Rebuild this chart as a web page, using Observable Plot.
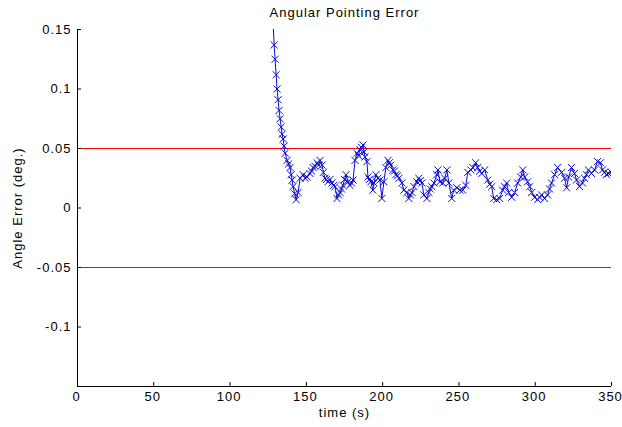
<!DOCTYPE html>
<html><head><meta charset="utf-8">
<script src="https://cdn.jsdelivr.net/npm/d3@7"></script>
<script src="https://cdn.jsdelivr.net/npm/@observablehq/plot@0.6"></script>
<style>body{margin:0;background:#fff} svg{display:block}</style>
</head><body><div id="chart"></div>
<script>
const timeS = [128.0,128.9,129.5,130.2,130.8,131.5,132.1,132.8,133.5,134.1,134.8,135.4,136.1,137.4,138.4,139.3,140.0,140.7,141.3,142.3,143.3,144.6,145.9,147.9,149.2,150.5,152.4,153.4,154.4,155.7,157.0,158.0,159.0,160.3,161.2,162.2,163.2,164.2,165.5,166.8,167.8,168.8,170.1,171.1,172.1,173.0,174.0,175.0,176.0,177.3,178.6,179.6,180.6,181.9,183.2,184.1,185.1,186.1,187.1,187.8,188.4,189.7,190.4,191.3,192.3,193.6,194.3,195.6,196.9,198.2,199.5,200.8,202.1,203.5,204.4,205.4,206.7,207.7,208.7,209.7,210.7,212.6,213.9,215.9,217.2,218.2,219.2,220.5,222.4,223.7,224.7,225.7,227.0,229.0,230.3,231.2,232.2,233.6,235.5,236.2,237.5,239.4,240.7,242.1,243.4,245.3,246.6,248.6,250.6,252.5,254.5,255.8,257.8,259.1,261.0,262.3,263.6,265.0,266.9,268.9,270.2,271.5,272.8,274.8,276.7,278.7,280.0,281.3,282.6,284.6,286.5,288.5,290.5,291.8,293.1,295.0,296.4,297.7,299.6,301.6,302.9,304.2,306.2,308.1,309.4,310.7,312.7,314.7,317.3,319.2,320.6,321.9,323.8,325.8,327.1,329.1,331.0,332.3,333.6,334.9,336.9,338.9,340.8,342.8,344.1,345.4,346.7,348.0,350.0];
const angleErr = [0.160,0.137,0.125,0.112,0.100,0.091,0.082,0.075,0.068,0.062,0.058,0.052,0.046,0.040,0.037,0.034,0.028,0.0235,0.018,0.012,0.007,0.013,0.025,0.028,0.025,0.026,0.029,0.031,0.034,0.035,0.038,0.036,0.040,0.036,0.030,0.025,0.024,0.022,0.024,0.021,0.019,0.018,0.008,0.011,0.013,0.016,0.019,0.024,0.028,0.022,0.019,0.021,0.0235,0.040,0.046,0.044,0.049,0.051,0.053,0.047,0.043,0.039,0.026,0.024,0.022,0.015,0.021,0.028,0.025,0.0235,0.008,0.022,0.034,0.040,0.038,0.036,0.032,0.031,0.028,0.027,0.025,0.021,0.015,0.013,0.008,0.011,0.013,0.018,0.022,0.025,0.023,0.021,0.011,0.008,0.013,0.016,0.018,0.021,0.028,0.032,0.022,0.021,0.025,0.032,0.021,0.008,0.015,0.017,0.015,0.015,0.019,0.030,0.032,0.034,0.038,0.034,0.031,0.029,0.032,0.0235,0.020,0.018,0.008,0.007,0.008,0.015,0.018,0.021,0.013,0.009,0.013,0.021,0.026,0.032,0.026,0.022,0.018,0.013,0.009,0.007,0.009,0.011,0.008,0.011,0.016,0.021,0.028,0.034,0.030,0.025,0.017,0.026,0.034,0.029,0.0235,0.018,0.021,0.025,0.028,0.032,0.029,0.032,0.039,0.038,0.032,0.030,0.028,0.029,0.030];
const limits = [0.05, -0.05];
const xTicks = [0, 50, 100, 150, 200, 250, 300, 350];
const yTicks = [-0.1, -0.05, 0, 0.05, 0.1, 0.15];
const xDomain = [0, 350];
const yDomain = [-0.15, 0.15];
const titleText = "Angular Pointing Error";
const xLabel = "time (s)";
const yLabel = "Angle Error (deg.)";

const points = timeS.map((t, i) => ({t, v: angleErr[i]}));
const blue = "#0a0ad0";
const red = "#ff0000";
const W = 622, H = 427, mT = 29, mB = 41, mL = 77, mR = 11;
const frameW = W - mL - mR, frameH = H - mT - mB, tick = 4;

const chart = Plot.plot({
  width: W, height: H,
  marginTop: mT, marginBottom: mB, marginLeft: mL, marginRight: mR,
  style: {fontFamily: "'Liberation Sans', Arial, sans-serif", fontSize: "13px", letterSpacing: "1px", background: "#fff", color: "#000"},
  x: {domain: xDomain},
  y: {domain: yDomain},
  marks: [
    Plot.ruleY(limits, {y: d => d, stroke: red, strokeWidth: 1}),
    Plot.line(points, {x: "t", y: "v", stroke: blue, strokeWidth: 1, clip: true}),
    Plot.dot(points, {x: "t", y: "v", symbol: "times", r: 3.3, stroke: blue, strokeWidth: 1, clip: true}),
    Plot.tickX(xTicks, {x: d => d, stroke: "#000", insetTop: frameH - tick}),
    Plot.tickY(yTicks, {y: d => d, stroke: "#000", insetRight: frameW - tick}),
    Plot.axisX(xTicks, {anchor: "bottom", tickSize: 0, tickPadding: 5, dx: -1, tickFormat: d => String(d), label: null}),
    Plot.axisY(yTicks, {anchor: "left", tickSize: 0, tickPadding: 6, tickFormat: d => String(d), label: null}),
    Plot.ruleX([xDomain[0]], {stroke: "#000"}),
    Plot.ruleY([yDomain[0]], {stroke: "#000"}),
    Plot.text([titleText], {text: d => d, frameAnchor: "top", lineAnchor: "middle", textAnchor: "middle", dy: -17, fontSize: 13}),
    Plot.text([xLabel], {text: d => d, frameAnchor: "bottom", lineAnchor: "middle", textAnchor: "middle", dy: 26, fontSize: 13}),
    Plot.text([yLabel], {text: d => d, frameAnchor: "left", lineAnchor: "middle", textAnchor: "middle", rotate: -90, dx: -60, fontSize: 13})
  ]
});
document.getElementById("chart").append(chart);
</script>
</body></html>
